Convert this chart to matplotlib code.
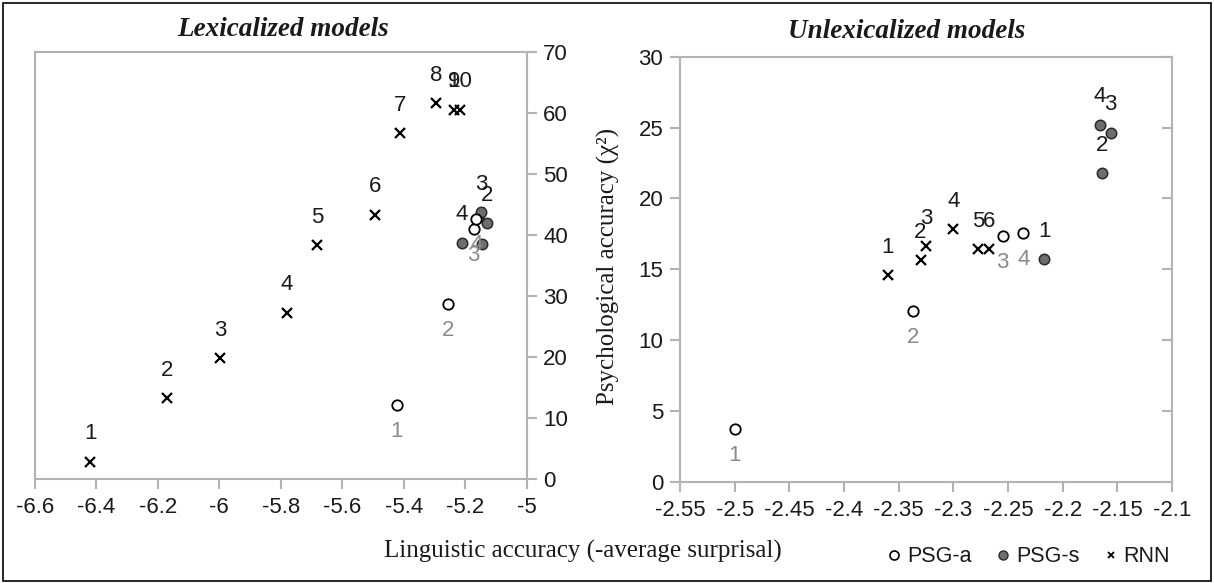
"""Lexicalized vs unlexicalized models: linguistic vs psychological accuracy."""
import matplotlib
matplotlib.use("Agg")
import matplotlib.pyplot as plt
from matplotlib.lines import Line2D
from matplotlib.patches import Rectangle

SANS = "Liberation Sans"
SERIF = "Liberation Serif"

# ---------------------------------------------------------------------------
# Data
# ---------------------------------------------------------------------------
# Lexicalized models
lex_rnn_x = [-6.419, -6.170, -5.996, -5.781, -5.682, -5.492, -5.411, -5.295, -5.235, -5.218]
lex_rnn_y = [2.9, 13.3, 19.9, 27.3, 38.4, 43.4, 56.8, 61.7, 60.6, 60.6]
lex_rnn_lab = ["1", "2", "3", "4", "5", "6", "7", "8", "9", "10"]

lex_psga_x = [-5.423, -5.255, -5.173, -5.164]
lex_psga_y = [12.2, 28.7, 41.0, 42.75]
lex_psga_lab = ["1", "2", "3", "4"]

lex_psgs_x = [-5.144, -5.129, -5.148, -5.210]
lex_psgs_y = [38.5, 42.0, 43.8, 38.8]
lex_psgs_lab = ["1", "2", "3", "4"]

# Unlexicalized models
unl_rnn_x = [-2.360, -2.330, -2.325, -2.300, -2.277, -2.267]
unl_rnn_y = [14.56, 15.62, 16.63, 17.85, 16.44, 16.44]
unl_rnn_lab = ["1", "2", "3", "4", "5", "6"]

unl_psga_x = [-2.500, -2.337, -2.255, -2.236]
unl_psga_y = [3.69, 12.04, 17.31, 17.54]
unl_psga_lab = ["1", "2", "3", "4"]

unl_psgs_x = [-2.217, -2.164, -2.156, -2.166]
unl_psgs_y = [15.69, 21.8, 24.64, 25.2]
unl_psgs_lab = ["1", "2", "3", "4"]

lex_xticks = [-6.6, -6.4, -6.2, -6.0, -5.8, -5.6, -5.4, -5.2, -5.0]
lex_xticklabels = ["-6.6", "-6.4", "-6.2", "-6", "-5.8", "-5.6", "-5.4", "-5.2", "-5"]
lex_yticks = [0, 10, 20, 30, 40, 50, 60, 70]
unl_xticks = [-2.55, -2.5, -2.45, -2.4, -2.35, -2.3, -2.25, -2.2, -2.15, -2.1]
unl_xticklabels = ["-2.55", "-2.5", "-2.45", "-2.4", "-2.35", "-2.3", "-2.25", "-2.2", "-2.15", "-2.1"]
unl_yticks = [0, 5, 10, 15, 20, 25, 30]

# ---------------------------------------------------------------------------
# Styling
# ---------------------------------------------------------------------------
SPINE = "#b3b3b3"
TXT = "#1a1a1a"
GREY_LAB = "#8a8a8a"
FILL_S = "#6e6e6e"
TICK_FS = 16
LAB_FS = 16
UP = 20     # offset (pt) of labels drawn above markers
DOWN = -19  # offset (pt) of labels drawn below markers


def style_axes(ax):
    for sp in ax.spines.values():
        sp.set_color(SPINE)
        sp.set_linewidth(1.5)
    ax.tick_params(colors=SPINE, labelcolor=TXT, length=7, width=1.5,
                   labelsize=TICK_FS)
    for lab in ax.get_xticklabels() + ax.get_yticklabels():
        lab.set_fontfamily(SANS)


def draw_series(ax, x, y, labels, kind):
    if kind == "rnn":
        ax.plot(x, y, linestyle="none", marker="x", ms=7.5, mew=1.6,
                color="black", zorder=3)
        col, dy, z = TXT, UP, 2
    elif kind == "psga":
        ax.plot(x, y, linestyle="none", marker="o", ms=7.5, mew=1.3,
                mfc="white", mec="black", zorder=5)
        col, dy, z = GREY_LAB, DOWN, 6
    else:
        ax.plot(x, y, linestyle="none", marker="o", ms=7.5, mew=1.1,
                mfc=FILL_S, mec="#2a2a2a", zorder=4)
        col, dy, z = TXT, UP, 2
    for xi, yi, t in zip(x, y, labels):
        ax.annotate(t, (xi, yi), xytext=(0, dy), textcoords="offset points",
                    ha="center", va="center", fontsize=LAB_FS, color=col,
                    family=SANS, zorder=z)


W, H = 1214, 583
fig = plt.figure(figsize=(W / 100, H / 100), dpi=100)

# ---- Left: lexicalized ------------------------------------------------------
ax1 = fig.add_axes([34.7 / W, 1 - 479.3 / H, 492 / W, 427 / H])
draw_series(ax1, lex_rnn_x, lex_rnn_y, lex_rnn_lab, "rnn")
draw_series(ax1, lex_psgs_x, lex_psgs_y, lex_psgs_lab, "psgs")
draw_series(ax1, lex_psga_x, lex_psga_y, lex_psga_lab, "psga")
ax1.set_xlim(-6.6, -5.0)
ax1.set_ylim(0, 70)
ax1.set_xticks(lex_xticks)
ax1.set_xticklabels(lex_xticklabels)
ax1.set_yticks(lex_yticks)
ax1.yaxis.tick_right()
ax1.tick_params(axis="x", pad=6)
ax1.tick_params(axis="y", pad=5)
style_axes(ax1)

# ---- Right: unlexicalized ---------------------------------------------------
ax2 = fig.add_axes([680 / W, 1 - 481.7 / H, 492 / W, 425 / H])
draw_series(ax2, unl_rnn_x, unl_rnn_y, unl_rnn_lab, "rnn")
draw_series(ax2, unl_psgs_x, unl_psgs_y, unl_psgs_lab, "psgs")
draw_series(ax2, unl_psga_x, unl_psga_y, unl_psga_lab, "psga")
ax2.set_xlim(-2.55, -2.1)
ax2.set_ylim(0, 30)
ax2.set_xticks(unl_xticks)
ax2.set_xticklabels(unl_xticklabels)
ax2.set_yticks(unl_yticks)
ax2.tick_params(axis="x", pad=6)
ax2.tick_params(axis="y", pad=5)
style_axes(ax2)
# short inward marks on the right edge
ax2r = ax2.twinx()
ax2r.set_ylim(0, 30)
ax2r.set_yticks(unl_yticks)
ax2r.tick_params(axis="y", direction="in", length=7, width=1.5, colors=SPINE,
                 labelright=False)
for sp in ax2r.spines.values():
    sp.set_visible(False)

# ---- Titles, axis labels ----------------------------------------------------
fig.text(283 / W, 1 - 29 / H, "Lexicalized models", ha="center", va="center",
         family=SERIF, fontsize=19.5, fontweight="bold", fontstyle="italic",
         color=TXT)
fig.text(907 / W, 1 - 31.7 / H, "Unlexicalized models", ha="center", va="center",
         family=SERIF, fontsize=19.5, fontweight="bold", fontstyle="italic",
         color=TXT)
fig.text(583 / W, 1 - 551 / H, "Linguistic accuracy (-average surprisal)",
         ha="center", va="center", family=SERIF, fontsize=18, color=TXT)
fig.text(608 / W, 1 - 266 / H, "Psychological accuracy (χ²)",
         ha="center", va="center", rotation=90, family=SERIF, fontsize=18,
         color=TXT)

# ---- Legend -----------------------------------------------------------------
handles = [
    Line2D([], [], linestyle="none", marker="o", ms=6.5, mfc="white",
           mec="black", mew=1.2),
    Line2D([], [], linestyle="none", marker="o", ms=6.5, mfc=FILL_S,
           mec="#2a2a2a", mew=1.0),
    Line2D([], [], linestyle="none", marker="x", ms=5, mew=1.3, color="black"),
]
leg = fig.legend(handles, ["PSG-a", "PSG-s", "RNN"], ncol=3, frameon=False,
                 loc="center right", bbox_to_anchor=(1170 / W, 1 - 556.7 / H),
                 handlelength=0.7, handletextpad=0.25, columnspacing=1.1,
                 borderaxespad=0, borderpad=0,
                 prop={"family": SANS, "size": 15.5})
for t in leg.get_texts():
    t.set_color(TXT)

# outer frame
fig.patches.append(Rectangle((2.5 / W, 2.5 / H), 1208.5 / W, 578 / H,
                             transform=fig.transFigure, fill=False,
                             edgecolor="black", linewidth=1.2))

fig.savefig("out.png", dpi=100)
